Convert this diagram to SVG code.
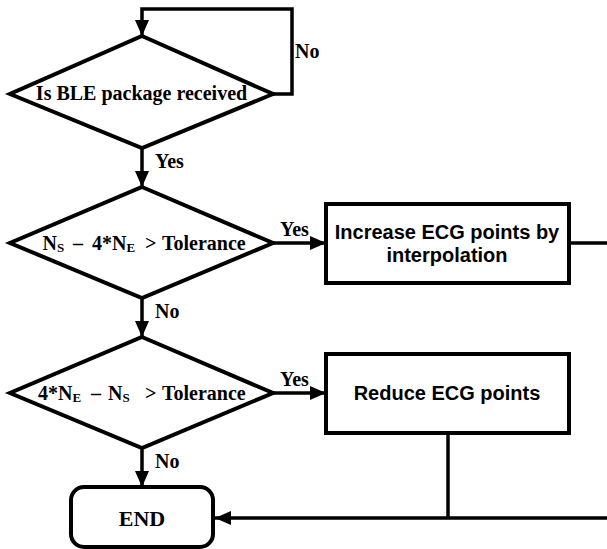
<svg xmlns="http://www.w3.org/2000/svg" width="607" height="549" viewBox="0 0 607 549">
<style>
.shape{fill:#fff;stroke:#000;stroke-width:4;stroke-linejoin:miter}
.ln{fill:none;stroke:#000;stroke-width:3.5}
.serif{font-family:"Liberation Serif","Times New Roman",serif;font-weight:bold;font-size:20px;fill:#000}
.big{font-size:22px}
.sans{font-family:"Liberation Sans",Arial,sans-serif;font-weight:bold;font-size:20px;fill:#000}
.sub{font-size:13px}
</style>
<defs>
<marker id="arr" viewBox="0 0 16 14" refX="16" refY="7" markerWidth="16" markerHeight="14" orient="auto" markerUnits="userSpaceOnUse">
<path d="M0,0 L16,7 L0,14 Z" fill="#000"/>
</marker>
</defs>
<g id="connectors">
<path class="ln" d="M273,94 H292 V9 H142 V36" marker-end="url(#arr)"/>
<path class="ln" d="M142,148 V187" marker-end="url(#arr)"/>
<path class="ln" d="M273,243 H326" marker-end="url(#arr)"/>
<path class="ln" d="M569,243 H607"/>
<path class="ln" d="M142,298 V337" marker-end="url(#arr)"/>
<path class="ln" d="M273,393 H326" marker-end="url(#arr)"/>
<path class="ln" d="M448,433 V518"/>
<path class="ln" d="M142,448 V487" marker-end="url(#arr)"/>
<path class="ln" d="M607,518 H215" marker-end="url(#arr)"/>
<text class="serif" x="295" y="58">No</text>
<text class="serif" x="155" y="168">Yes</text>
<text class="serif" x="280" y="236">Yes</text>
<text class="serif" x="155" y="318">No</text>
<text class="serif" x="280" y="386">Yes</text>
<text class="serif" x="155" y="468">No</text>
</g>
<g id="d1">
<polygon class="shape" points="142,36 273,94 142,148 10,94"/>
<text class="serif" x="141.5" y="100" text-anchor="middle">Is BLE package received</text>
</g>
<g id="d2">
<polygon class="shape" points="142,187 273,243 142,298 10,243"/>
<text class="serif" y="250"><tspan x="42.5">N</tspan><tspan class="sub" y="252">S</tspan><tspan x="73" y="250">–</tspan><tspan x="92">4*N</tspan><tspan class="sub" y="252">E</tspan><tspan x="145" y="250">&gt;</tspan><tspan x="162">Tolerance</tspan></text>
</g>
<g id="d3">
<polygon class="shape" points="142,337 273,393 142,448 10,393"/>
<text class="serif" y="400"><tspan x="38">4*N</tspan><tspan class="sub" y="402">E</tspan><tspan x="91" y="400">–</tspan><tspan x="108">N</tspan><tspan class="sub" y="402">S</tspan><tspan x="145" y="400">&gt;</tspan><tspan x="162">Tolerance</tspan></text>
</g>
<g id="b1">
<rect class="shape" x="326" y="204" width="243" height="79"/>
<text class="sans" x="447" y="239" text-anchor="middle">Increase ECG points by</text>
<text class="sans" x="447" y="262" text-anchor="middle">interpolation</text>
</g>
<g id="b2">
<rect class="shape" x="326" y="354" width="243" height="79"/>
<text class="sans" x="447" y="400" text-anchor="middle">Reduce ECG points</text>
</g>
<g id="end">
<rect class="shape" x="71" y="487" width="142" height="60" rx="13" ry="13"/>
<text class="serif big" x="142" y="526" text-anchor="middle">END</text>
</g>
</svg>
